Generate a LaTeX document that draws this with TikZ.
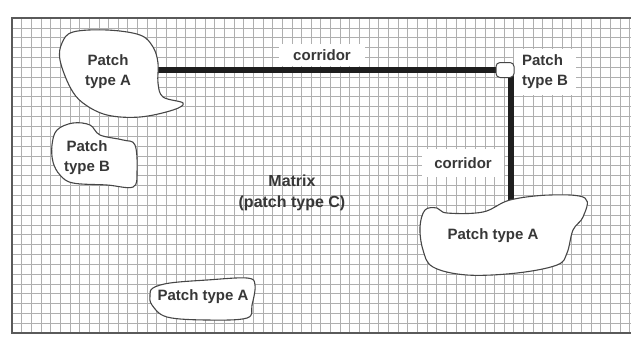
\documentclass[tikz,border=0pt]{standalone}
\usepackage{fontspec}
\setmainfont{Liberation Sans}
\definecolor{gridc}{RGB}{175,175,175}
\definecolor{framec}{RGB}{90,90,90}
\definecolor{edge}{RGB}{70,70,70}
\definecolor{txt}{RGB}{55,55,55}
\definecolor{corrc}{RGB}{30,30,30}
\begin{document}
\begin{tikzpicture}[x=1pt,y=-1pt,
  lab/.style={font=\bfseries\fontsize{15}{20}\selectfont, text=txt, align=center, inner sep=1pt},
  biglab/.style={font=\bfseries\fontsize{16}{21}\selectfont, text=txt, align=center, inner sep=1pt},
  blob/.style={draw=edge, fill=white, line width=1.1pt},
  corr/.style={line width=5.5pt, draw=corrc},
  gridl/.style={draw=gridc, line width=0.7pt},
  framel/.style={draw=framec, line width=1.4pt},
  ]
\useasboundingbox (0,0) rectangle (631,341);
\fill[white] (0,0) rectangle (631,341);
% grid (matrix)
\foreach \i in {0,...,64} \draw[gridl] ({12+9.65*\i},18) -- ({12+9.65*\i},333);
\foreach \j in {0,...,32} \draw[gridl] (12,{18+9.85*\j}) -- (631,{18+9.85*\j});
\draw[framel] (631,18) -- (12,18) -- (12,333) -- (631,333);
% label backgrounds
\node[lab, fill=white, inner xsep=14pt, inner ysep=5pt] (c1) at (322,55) {corridor};
\node[lab, fill=white, inner xsep=12pt, inner ysep=8pt] (c2) at (463,163) {corridor};
\node[lab, fill=white, align=left, inner xsep=8pt, inner ysep=6pt] (tB2) at (545,72) {Patch\\type B};
% corridors
\coordinate (a1) at (150,70);
\coordinate (bsm) at (505,70);
\coordinate (a2) at (511,215);
\draw[corr] (a1) -- (bsm);
\draw[corr] ([xshift=6pt]bsm) -- (a2);
% patches
\draw[blob] plot[smooth cycle, tension=0.6] coordinates {(62,43) (73,32) (107,30) (140,35) (153,47) (158,63) (158,83) (163,97) (183,103) (173,110) (140,117) (107,115) (83,103) (70,87) (60,60)};
\draw[blob] plot[smooth cycle, tension=0.6] coordinates {(57,130) (73,123) (90,125) (100,135) (123,140) (135,145) (137,172) (133,187) (107,185) (73,183) (60,175) (53,162) (52,145)};
\draw[blob] plot[smooth cycle, tension=0.6] coordinates {(425,210) (437,208) (447,213) (483,212) (510,200) (550,195) (585,198) (583,217) (573,230) (567,253) (557,265) (517,273) (467,275) (433,267) (423,250) (420,227)};
\draw[blob] plot[smooth cycle, tension=0.6] coordinates {(153,288) (170,283) (207,280) (247,278) (255,285) (252,305) (247,318) (207,320) (167,317) (152,305) (150,295)};
\node[draw=edge, fill=white, line width=1pt, minimum width=18pt, minimum height=15pt, rounded corners=4pt, inner sep=0pt] (pB2) at (bsm) {};
% texts
\node[lab] (tA1) at (108,72) {Patch\\type A};
\node[lab] (tB1) at (87,158) {Patch\\type B};
\node[lab] (tA2) at (493,236) {Patch type A};
\node[lab] (tA3) at (203,297) {Patch type A};
\node[biglab] (mx) at (292,193) {Matrix\\(patch type C)};
\end{tikzpicture}
\end{document}
